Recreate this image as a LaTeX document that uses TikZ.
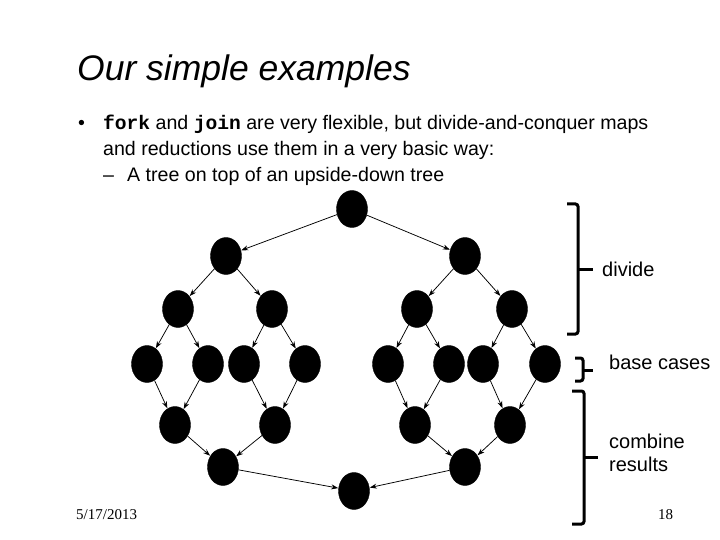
\documentclass[tikz,border=0pt]{standalone}
\usepackage{fontspec}
\setmainfont{Liberation Sans}
\setmonofont{Liberation Mono}
\newfontfamily\footfont{Liberation Serif}
\usetikzlibrary{shapes.geometric,arrows.meta}
\begin{document}
\begin{tikzpicture}[x=1pt,y=-1pt,
  dot/.style={ellipse,fill=black,draw=black,minimum width=31pt,minimum height=37pt,inner sep=0pt},
  edge/.style={-{Stealth[length=7pt,width=5pt]},line width=0.75pt,shorten >=0.3pt},
  brace/.style={line width=3pt,rounded corners=2.5pt},
  body/.style={anchor=base west,inner sep=0pt,font=\fontsize{19.6}{24}\selectfont},
  lab/.style={anchor=west,inner sep=0pt,font=\fontsize{20}{24}\selectfont,align=left}]
\useasboundingbox (0,0) rectangle (720,540);
\fill[white] (0,0) rectangle (720,540);
% texts
\node[anchor=base west,inner sep=0pt,font=\fontsize{35.5}{40}\selectfont\itshape] (title) at (77,81) {Our simple examples};
\node[body] (bul) at (78,130) {\textbullet};
\node[body] (l1) at (103,130) {\textbf{\texttt{fork}} and \textbf{\texttt{join}} are very flexible, but divide-and-conquer maps};
\node[body] (l2) at (103,156) {and reductions use them in a very basic way:};
\node[body] (dash) at (103,182) {--};
\node[body] (l3) at (127,182) {A tree on top of an upside-down tree};
\node[anchor=base west,inner sep=0pt,font=\footfont\fontsize{15}{17}\selectfont] (date) at (76,519) {5/17/2013};
\node[anchor=base west,inner sep=0pt,font=\footfont\fontsize{15}{17}\selectfont] (pg) at (658,519) {18};
% nodes
\node[dot] (r) at (352,209) {};
\node[dot] (a1) at (226,256) {};
\node[dot] (a2) at (465,256) {};
\node[dot] (b1) at (178,309) {};
\node[dot] (b2) at (272,309) {};
\node[dot] (b3) at (417,309) {};
\node[dot] (b4) at (512,309) {};
\node[dot] (c1) at (147,364) {};
\node[dot] (c2) at (208,364) {};
\node[dot] (c3) at (244,364) {};
\node[dot] (c4) at (305,364) {};
\node[dot] (c5) at (388,364) {};
\node[dot] (c6) at (449,364) {};
\node[dot] (c7) at (483,364) {};
\node[dot] (c8) at (545,364) {};
\node[dot] (d1) at (175,425) {};
\node[dot] (d2) at (275,425) {};
\node[dot] (d3) at (415,425) {};
\node[dot] (d4) at (510,425) {};
\node[dot] (e1) at (223,467) {};
\node[dot] (e2) at (465,467) {};
\node[dot] (f) at (354,491) {};
% edges
\draw[edge] (r) -- (a1);
\draw[edge] (r) -- (a2);
\draw[edge] (a1) -- (b1);
\draw[edge] (a1) -- (b2);
\draw[edge] (a2) -- (b3);
\draw[edge] (a2) -- (b4);
\draw[edge] (b1) -- (c1);
\draw[edge] (b1) -- (c2);
\draw[edge] (b2) -- (c3);
\draw[edge] (b2) -- (c4);
\draw[edge] (b3) -- (c5);
\draw[edge] (b3) -- (c6);
\draw[edge] (b4) -- (c7);
\draw[edge] (b4) -- (c8);
\draw[edge] (c1) -- (d1);
\draw[edge] (c2) -- (d1);
\draw[edge] (c3) -- (d2);
\draw[edge] (c4) -- (d2);
\draw[edge] (c5) -- (d3);
\draw[edge] (c6) -- (d3);
\draw[edge] (c7) -- (d4);
\draw[edge] (c8) -- (d4);
\draw[edge] (d1) -- (e1);
\draw[edge] (d2) -- (e1);
\draw[edge] (d3) -- (e2);
\draw[edge] (d4) -- (e2);
\draw[edge] (e1) -- (f);
\draw[edge] (e2) -- (f);
% braces
\draw[brace] (567,204) -- (578,204) -- (578,334) -- (567,334);
\draw[line width=3pt] (578,269) -- (593,269);
\draw[brace] (575,358) -- (583,358) -- (583,381) -- (575,381);
\draw[line width=3pt] (583,370) -- (593,370);
\draw[brace] (572,391) -- (584,391) -- (584,524) -- (572,524);
\draw[line width=3pt] (584,457) -- (598,457);
% labels
\node[lab] (ldiv) at (602,269) {divide};
\node[lab] (lbase) at (609,362) {base cases};
\node[lab] (lcomb) at (609,453) {combine\\[-1pt]results};
\end{tikzpicture}
\end{document}
